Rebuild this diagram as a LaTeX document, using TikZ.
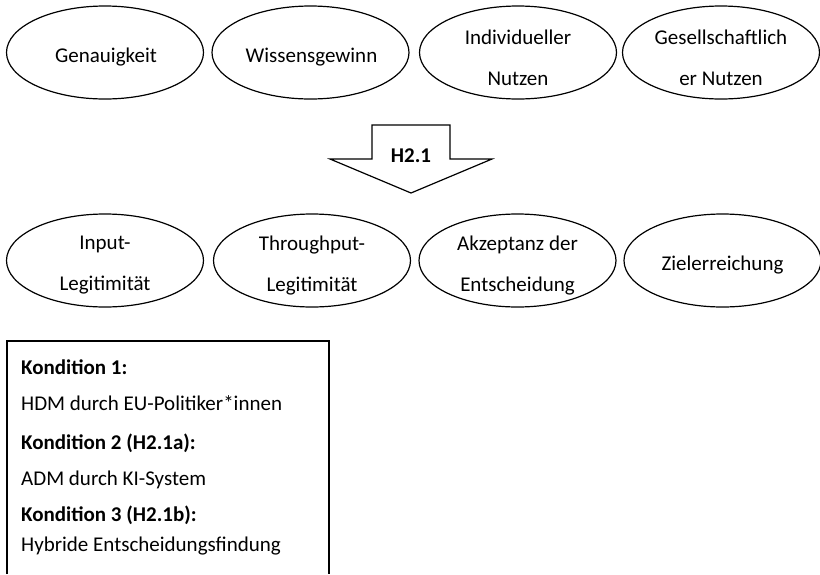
\documentclass[tikz,border=0pt]{standalone}
\usepackage{fontspec}
\setmainfont{Carlito}
\usetikzlibrary{shapes.geometric}
\begin{document}
\begin{tikzpicture}[x=1pt,y=-1pt,
  txt/.style={font=\fontsize{21}{41}\selectfont, align=center, inner sep=0pt},
  oval/.style={draw, line width=1.2pt, ellipse, inner sep=0pt,
    minimum width=197pt, minimum height=93pt},
  boxtxt/.style={font=\fontsize{21}{25}\selectfont, anchor=mid west, inner sep=0pt},
  bold/.style={boxtxt, font=\fontsize{21}{25}\selectfont\bfseries}]
\useasboundingbox (0,0) rectangle (820,574);

% outcome factors (top row)
\node[oval] (genau) at (105,52.5) {};
\node[oval] (wissen) at (310.5,52.5) {};
\node[oval] (indiv) at (518,52.5) {};
\node[oval] (gesell) at (721,52.5) {};
\node[txt] (tgenau) at (106,57) {Genauigkeit};
\node[txt] (twissen) at (311.5,57) {Wissensgewinn};
\node[txt] (tindiv) at (518,57.5) {Individueller\\Nutzen};
\node[txt] (tgesell) at (721,57.5) {Gesellschaftlich\\er Nutzen};

% hypothesis arrow
\draw[line width=1.2pt, line join=miter]
  (372,125) -- (450,125) -- (450,159) -- (492,159) -- (411,193)
  -- (330,159) -- (372,159) -- cycle;
\node[txt, font=\fontsize{21}{25}\selectfont\bfseries] (hyp) at (411,156) {H2.1};

% legitimacy criteria (bottom row)
\node[oval] (input) at (105,260.5) {};
\node[oval] (through) at (312,260.5) {};
\node[oval] (akzept) at (517.5,260.5) {};
\node[oval] (ziel) at (722.5,260.5) {};
\node[txt] (tinput) at (105,265.5) {Input-\\Legitimität};
\node[txt] (tthrough) at (312,265.5) {Throughput-\\Legitimität};
\node[txt] (takzept) at (517.5,265.5) {Akzeptanz der\\Entscheidung};
\node[txt] (tziel) at (722.5,265) {Zielerreichung};

% conditions box (open at the bottom)
\draw[line width=1.2pt] (7,574) -- (7,341) -- (329,341) -- (329,574);
\node[bold] (k1) at (21,372) {Kondition 1:};
\node[boxtxt] (c1) at (21,408) {HDM durch EU-Politiker*innen};
\node[bold] (k2) at (21,447) {Kondition 2 (H2.1a):};
\node[boxtxt] (c2) at (21,483) {ADM durch KI-System};
\node[bold] (k3) at (21,519) {Kondition 3 (H2.1b):};
\node[boxtxt] (c3) at (21,549) {Hybride Entscheidungsfindung};
\end{tikzpicture}
\end{document}
